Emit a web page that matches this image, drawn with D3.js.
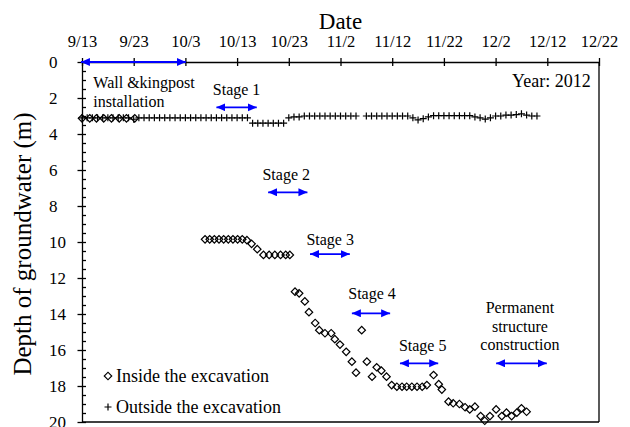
<!DOCTYPE html>
<html>
<head>
<meta charset="utf-8">
<script src="https://cdn.jsdelivr.net/npm/d3@7"></script>
<style>
body { margin: 0; background: #fff; }
text { font-family: "Liberation Serif", "Times New Roman", serif; fill: #000; }
</style>
</head>
<body>
<script>
var width = 630, height = 427

// days counted from 9/13/2012
var dayTicks = [0, 10, 20, 30, 40, 50, 60, 70, 80, 90, 100]
var dateLabels = ["9/13", "9/23", "10/3", "10/13", "10/23", "11/2", "11/12", "11/22", "12/2", "12/12", "12/22"]
var depthTicks = [0, 2, 4, 6, 8, 10, 12, 14, 16, 18, 20]

var insideDays = [0, 1.5, 2.8, 4.2, 5.7, 7.2, 8.6, 10.2,
	23.8, 24.7, 25.6, 26.5, 27.4, 28.3, 29.2, 30.1, 31, 31.9, 32.8, 33.9,
	35.1, 36.2, 37.3, 38.4, 39.4, 40.2,
	41.2, 42, 43.1, 43.9, 45.1, 45.9, 47, 48.2, 48.9, 49.9, 51.1, 52.2, 53, 54.1,
	55.1, 56.1, 57, 57.9, 58.9, 59.9, 60.9, 61.9, 62.8, 63.8, 64.8, 65.8, 66.7,
	68, 69, 69.6, 70.9, 71.8, 73, 74.1, 75, 76, 77.1, 77.9, 78.9, 80.1, 81.2, 82.1, 83.1, 84.1, 85, 86]
var insideDepth = [3.13, 3.13, 3.13, 3.13, 3.13, 3.13, 3.13, 3.13,
	9.85, 9.85, 9.85, 9.85, 9.85, 9.85, 9.85, 9.85, 9.85, 9.9, 10.1, 10.4,
	10.72, 10.72, 10.72, 10.72, 10.72, 10.72,
	12.76, 12.85, 13.3, 13.9, 14.5, 14.9, 15.07, 15.07, 15.4, 15.7, 16.1, 16.65, 17.26, 14.9,
	16.65, 17.48, 16.96, 17.15, 17.48, 17.95, 18.04, 18.04, 18.04, 18.04, 18.04, 18.04, 17.95,
	17.39, 17.9, 18.2, 18.87, 18.96, 19.0, 19.18, 19.3, 19.15, 19.67, 19.93, 19.67, 19.3, 19.67, 19.48, 19.67, 19.48, 19.24, 19.43]

var outsideDays = [0, 1, 2, 3, 4, 5, 6, 7, 8, 9, 10, 11, 12, 13, 14, 15, 16, 17, 18, 19, 20,
	21, 22, 23, 24, 25, 26, 27, 28, 29, 30, 31, 32, 33, 34, 35, 36, 37, 38, 39, 40,
	41, 42, 43, 44, 45, 46, 47, 48, 49, 50, 51, 52, 53, 55, 56, 57, 58, 59, 60,
	61, 62, 63, 64, 65, 66, 67, 68, 69, 70, 71, 72, 73, 74, 75, 76, 77, 78, 79, 80,
	81, 82, 83, 84, 85, 86, 87, 88]
var outsideDepth = [3.1, 3.1, 3.1, 3.1, 3.1, 3.1, 3.1, 3.1, 3.1, 3.1, 3.18, 3.1, 3.1, 3.1, 3.1, 3.1, 3.1, 3.1, 3.1, 3.1, 3.1,
	3.1, 3.1, 3.1, 3.1, 3.1, 3.1, 3.1, 3.1, 3.1, 3.1, 3.1, 3.1, 3.4, 3.4, 3.4, 3.4, 3.4, 3.4, 3.4, 3.1,
	3.05, 3.05, 3.0, 3.0, 3.0, 3.0, 3.0, 3.0, 3.0, 3.0, 3.0, 3.0, 3.0, 3.0, 3.0, 3.0, 3.0, 3.0, 3.0,
	3.0, 3.0, 3.0, 3.1, 3.22, 3.15, 3.05, 2.98, 2.98, 2.98, 2.98, 2.98, 2.98, 2.98, 2.98, 3.05, 3.1, 3.17, 3.1, 3.0,
	3.0, 2.95, 2.95, 2.92, 2.88, 2.95, 3.0, 3.0]

var stageFrom = [-0.2, 26, 36, 44.1, 52.2, 61.5, 80.1]
var stageTo = [20.1, 33.8, 43.6, 51.8, 59.6, 68.9, 89.9]
var stageDepth = [0, 2.52, 7.24, 10.67, 13.96, 16.74, 16.74]

var labelLines = [["Wall &kingpost", "installation"], ["Stage 1"], ["Stage 2"], ["Stage 3"], ["Stage 4"], ["Stage 5"], ["Permanent", "structure", "construction"]]
var labelDay = [2.2, 29.9, 39.5, 48.0, 56.1, 65.9, 84.7]
var labelDepth = [1.46, 1.83, 6.56, 10.17, 13.18, 16.06, 13.96]

var legendNames = ["Inside the excavation", "Outside the excavation"]

var plotL = 82, plotR = 599, plotT = 62, plotB = 422

var x = d3.scaleLinear().domain([0, 100]).range([plotL, plotR])
var y = d3.scaleLinear().domain([0, 20]).range([plotT, plotB])

var svg = d3.select("body").append("svg")
	.attr("width", width)
	.attr("height", height)

var defs = svg.append("defs")
defs.append("marker")
	.attr("id", "head")
	.attr("markerUnits", "userSpaceOnUse")
	.attr("markerWidth", 10)
	.attr("markerHeight", 9)
	.attr("refX", 9)
	.attr("refY", 4)
	.attr("orient", "auto-start-reverse")
	.append("path")
	.attr("d", "M0,0L9,4L0,8Z")
	.style("fill", "#0000ff")

// frame
svg.append("line").attr("x1", plotR).attr("x2", plotR).attr("y1", plotT).attr("y2", plotB)
	.style("stroke", "#000").style("stroke-width", 1.3)
svg.append("line").attr("x1", plotL).attr("x2", plotR).attr("y1", plotB).attr("y2", plotB)
	.style("stroke", "#000").style("stroke-width", 1.3)

// top date axis
var xTop = svg.append("g")
	.attr("transform", "translate(0," + plotT + ")")
	.call(d3.axisTop(x).tickValues(dayTicks).tickSize(4).tickSizeOuter(0).tickPadding(11)
		.tickFormat(function(d, i) { return dateLabels[i] }))
svg.append("g")
	.attr("transform", "translate(0," + plotT + ")")
	.call(d3.axisBottom(x).tickValues(dayTicks).tickSize(4).tickSizeOuter(0).tickFormat(""))
	.select(".domain").remove()

// left depth axis
var yLeft = svg.append("g")
	.attr("transform", "translate(" + plotL + ",0)")
	.call(d3.axisLeft(y).tickValues(depthTicks).tickSize(4.5).tickSizeOuter(0))
svg.append("g")
	.attr("transform", "translate(" + plotL + ",0)")
	.call(d3.axisRight(y).tickValues(d3.range(0, 20.01, 0.5)).tickSize(4).tickSizeOuter(0).tickFormat(""))
	.select(".domain").remove()

svg.selectAll(".tick line, .domain").style("stroke-width", 1.3)
xTop.selectAll("text").style("font-size", "16.5px")
yLeft.selectAll("text")
	.style("font-size", "17px")
	.attr("text-anchor", "start")
	.attr("x", 49 - plotL)
	.attr("dy", "0.35em")
svg.selectAll("g text").style("font-family", "'Liberation Serif', 'Times New Roman', serif").style("fill", "#000")

svg.append("text")
	.attr("x", (plotL + plotR) / 2)
	.attr("y", 29)
	.attr("text-anchor", "middle")
	.style("font-size", "23px")
	.text("Date")

svg.append("text")
	.attr("transform", "translate(31," + ((plotT + plotB) / 2 + 2) + ") rotate(-90)")
	.attr("text-anchor", "middle")
	.style("font-size", "25px")
	.text("Depth of groundwater (m)")

// stage arrows
svg.selectAll(".stage")
	.data(stageFrom)
	.enter().append("line")
	.attr("class", "stage")
	.attr("x1", function(d) { return x(d) })
	.attr("x2", function(d, i) { return x(stageTo[i]) })
	.attr("y1", function(d, i) { return y(stageDepth[i]) })
	.attr("y2", function(d, i) { return y(stageDepth[i]) })
	.attr("marker-start", "url(#head)")
	.attr("marker-end", "url(#head)")
	.style("stroke", "#0000ff")
	.style("stroke-width", 1.8)

var labels = svg.selectAll(".label")
	.data(labelLines)
	.enter().append("text")
	.attr("class", "label")
	.attr("text-anchor", function(d, i) { return i == 0 ? "start" : "middle" })
	.style("font-size", "16px")
labels.selectAll("tspan")
	.data(function(d, i) { return d.map(function(t) { return {t: t, i: i} }) })
	.enter().append("tspan")
	.attr("x", function(d) { return x(labelDay[d.i]) })
	.attr("y", function(d, j) { return y(labelDepth[d.i]) + j * 18.5 })
	.text(function(d) { return d.t })

svg.append("text")
	.attr("x", x(98.4))
	.attr("y", y(1.41))
	.attr("text-anchor", "end")
	.style("font-size", "18px")
	.text("Year: 2012")

// series
var diamond = d3.symbol().type(d3.symbolSquare).size(28)
svg.selectAll(".inside")
	.data(insideDays)
	.enter().append("path")
	.attr("class", "inside")
	.attr("d", diamond)
	.attr("transform", function(d, i) { return "translate(" + x(d) + "," + y(insideDepth[i]) + ") rotate(45)" })
	.style("fill", "none")
	.style("stroke", "#000")
	.style("stroke-width", 1.2)

var plus = "M-3.5,0H3.5M0,-3.5V3.5"
svg.selectAll(".outside")
	.data(outsideDays)
	.enter().append("path")
	.attr("class", "outside")
	.attr("d", plus)
	.attr("transform", function(d, i) { return "translate(" + x(d) + "," + y(outsideDepth[i]) + ")" })
	.style("fill", "none")
	.style("stroke", "#000")
	.style("stroke-width", 1.2)

// legend
var legend = svg.append("g")
legend.append("path")
	.attr("d", diamond)
	.attr("transform", "translate(108,376) rotate(45)")
	.style("fill", "none").style("stroke", "#000").style("stroke-width", 1.2)
legend.append("path")
	.attr("d", plus)
	.attr("transform", "translate(108,407)")
	.style("fill", "none").style("stroke", "#000").style("stroke-width", 1.2)
legend.selectAll("text")
	.data(legendNames)
	.enter().append("text")
	.attr("x", 116)
	.attr("y", function(d, i) { return 382 + i * 31 })
	.style("font-size", "18px")
	.text(function(d) { return d })
</script>
</body>
</html>
